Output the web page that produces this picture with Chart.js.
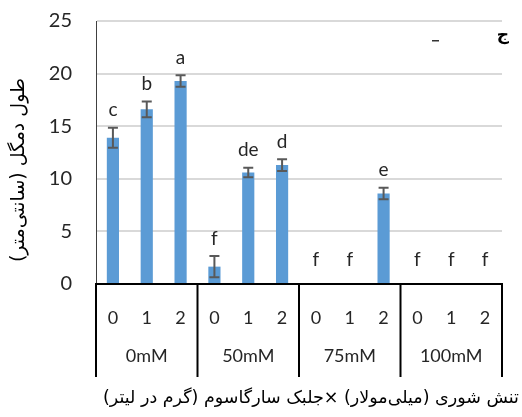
<!DOCTYPE html>
<html>
<head>
<meta charset="utf-8">
<script src="https://cdn.jsdelivr.net/npm/chart.js@4"></script>
<style>
  body { margin: 0; background: #fff; }
  #wrap { width: 522px; height: 417px; }
</style>
</head>
<body>
<div id="wrap"><canvas id="myChart" width="522" height="417"></canvas></div>
<script>
// data
let groups = ['0mM', '50mM', '75mM', '100mM'];
let subLabels = ['0', '1', '2', '0', '1', '2', '0', '1', '2', '0', '1', '2'];
let lengths = [13.9, 16.6, 19.3, 1.65, 10.6, 11.3, 0, 0, 8.6, 0, 0, 0];
let errors = [0.95, 0.75, 0.55, 1.0, 0.45, 0.55, 0, 0, 0.55, 0, 0, 0];
let letters = ['c', 'b', 'a', 'f', 'de', 'd', 'f', 'f', 'e', 'f', 'f', 'f'];
let yTicks = [0, 5, 10, 15, 20, 25];

const latin = 'Lato, "Open Sans", sans-serif';
const persian = '"DejaVu Sans", sans-serif';

// error bars, letters, group boxes and titles
const extras = {
  id: 'extras',
  afterDatasetsDraw(chart) {
    const ctx = chart.ctx;
    const y = chart.scales.y;
    const meta = chart.getDatasetMeta(0);
    ctx.save();
    ctx.strokeStyle = '#595959';
    ctx.lineWidth = 2;
    meta.data.forEach((bar, i) => {
      if (!errors[i]) return;
      let top = y.getPixelForValue(lengths[i] + errors[i]);
      let bot = y.getPixelForValue(lengths[i] - errors[i]);
      ctx.beginPath();
      ctx.moveTo(bar.x, top); ctx.lineTo(bar.x, bot);
      ctx.moveTo(bar.x - 5, top); ctx.lineTo(bar.x + 5, top);
      ctx.moveTo(bar.x - 5, bot); ctx.lineTo(bar.x + 5, bot);
      ctx.stroke();
    });
    ctx.fillStyle = '#262626';
    ctx.font = '19px ' + latin;
    ctx.textAlign = 'center';
    ctx.textBaseline = 'bottom';
    let zero = y.getPixelForValue(0);
    meta.data.forEach((bar, i) => {
      let top = y.getPixelForValue(lengths[i] + errors[i]);
      let ly = Math.min(top - 8, zero - 15);
      ctx.fillText(letters[i], bar.x, ly);
    });
    ctx.restore();
  },
  afterDraw(chart) {
    const ctx = chart.ctx;
    const x = chart.scales.x;
    const area = chart.chartArea;
    let half = (x.getPixelForValue(1) - x.getPixelForValue(0)) / 2;
    ctx.save();
    // axis line
    ctx.strokeStyle = '#000';
    ctx.lineWidth = 2;
    ctx.beginPath();
    ctx.moveTo(area.left - 1, area.bottom);
    ctx.lineTo(area.right + 1, area.bottom);
    ctx.stroke();
    // group separators
    for (let g = 0; g <= groups.length; g++) {
      let px = g < groups.length ? x.getPixelForValue(g * 3) - half : x.getPixelForValue(g * 3 - 1) + half;
      ctx.beginPath();
      ctx.moveTo(px, area.bottom);
      ctx.lineTo(px, area.bottom + 93);
      ctx.stroke();
    }
    ctx.fillStyle = '#262626';
    ctx.font = '18px ' + latin;
    ctx.textAlign = 'center';
    ctx.textBaseline = 'middle';
    groups.forEach((g, i) => {
      let cx = (x.getPixelForValue(i * 3) + x.getPixelForValue(i * 3 + 2)) / 2;
      ctx.fillText(g, cx, area.bottom + 72);
    });
    // titles
    ctx.fillStyle = '#000';
    ctx.direction = 'rtl';
    ctx.font = '17.5px ' + persian;
    ctx.fillText('تنش شوری (میلی‌مولار) ×جلبک سارگاسوم (گرم در لیتر)', 311, 398);
    ctx.save();
    ctx.translate(19, 170);
    ctx.rotate(-Math.PI / 2);
    ctx.font = '19px ' + persian;
    ctx.fillText('طول دمگل (سانتی‌متر)', 0, 0);
    ctx.restore();
    // corner marks
    ctx.font = 'bold 17px ' + persian;
    ctx.fillText('ج', 503, 36);
    ctx.direction = 'ltr';
    ctx.fillStyle = '#333';
    ctx.fillRect(432, 40, 7, 1.5);
    ctx.restore();
  }
};

new Chart(document.getElementById('myChart'), {
  type: 'bar',
  data: {
    labels: subLabels,
    datasets: [{
      data: lengths,
      backgroundColor: '#5b9bd5',
      barPercentage: 0.36,
      categoryPercentage: 1
    }]
  },
  options: {
    responsive: false,
    animation: false,
    devicePixelRatio: 1,
    layout: { padding: { top: 21, right: 20, left: 0, bottom: 0 } },
    plugins: { legend: { display: false }, tooltip: { enabled: false } },
    scales: {
      x: {
        grid: { display: false, drawTicks: false },
        border: { display: false },
        ticks: { color: '#262626', font: { family: latin, size: 18 }, padding: 23, maxRotation: 0 },
        afterFit(scale) { scale.height = 133; }
      },
      y: {
        min: 0,
        max: 25,
        afterBuildTicks(scale) { scale.ticks = yTicks.map(v => ({ value: v })); },
        grid: { color: '#d9d9d9', lineWidth: 2, drawTicks: false },
        border: { display: true, color: '#404040', width: 1 },
        ticks: { color: '#262626', font: { family: latin, size: 20 }, padding: 24 },
        afterFit(scale) {
          scale.width = 96;
          scale.paddingTop = 0;
          scale.paddingBottom = 0;
        }
      }
    }
  },
  plugins: [extras]
});
</script>
</body>
</html>
